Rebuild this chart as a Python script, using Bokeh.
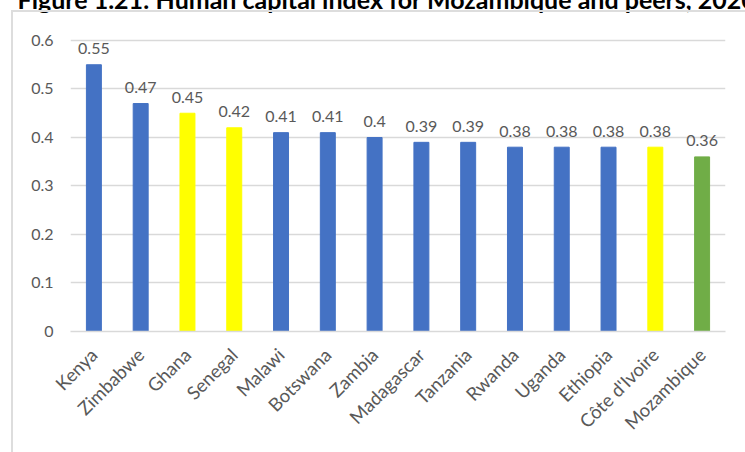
import math

from bokeh.core.properties import value
from bokeh.embed import file_html
from bokeh.models import (ColumnDataSource, CustomJSTickFormatter, FixedTicker,
                          InlineStyleSheet, Range1d, Title)
from bokeh.plotting import figure
from bokeh.resources import INLINE

# Human capital index, 2020
countries = ["Kenya", "Zimbabwe", "Ghana", "Senegal", "Malawi", "Botswana", "Zambia",
             "Madagascar", "Tanzania", "Rwanda", "Uganda", "Ethiopia", "Côte d'Ivoire",
             "Mozambique"]
hci = [0.55, 0.47, 0.45, 0.42, 0.41, 0.41, 0.40, 0.39, 0.39, 0.38, 0.38, 0.38, 0.38, 0.36]
group = ["peer", "peer", "aspirational", "aspirational", "peer", "peer", "peer",
         "peer", "peer", "peer", "peer", "peer", "aspirational", "focus"]
y_ticks = [0, 0.1, 0.2, 0.3, 0.4, 0.5, 0.6]
title_text = "Figure 1.21: Human capital index for Mozambique and peers, 2020"

palette = {"peer": "#4472C4", "aspirational": "#FFFF00", "focus": "#70AD47"}
GRAY_TEXT = "#595959"
GRID = "#D9D9D9"
BOX = "#DDDDDD"
FONT = "Lato"
SHIFT = 25  # the page is slid up so the heading sits partly above the top edge

source = ColumnDataSource(dict(
    country=countries,
    hci=hci,
    label=[f"{v:g}" for v in hci],
    color=[palette[g] for g in group],
))

p = figure(
    x_range=countries,
    y_range=Range1d(0, 0.6412),
    frame_width=655, frame_height=311,
    min_border_left=70, min_border_right=20,
    min_border_top=20 + SHIFT, min_border_bottom=121,
    output_backend="svg", toolbar_location=None,
)
p.x_range.range_padding = 0
p.outline_line_color = None
p.background_fill_color = "white"
p.border_fill_color = "white"
p.styles = {"position": "relative", "top": f"-{SHIFT}px"}
# thin border around the chart area (only its left and top edges fall inside the page)
p.stylesheets = [InlineStyleSheet(css=f"""
:host::after {{
  content: "";
  position: absolute;
  left: 11px;
  top: {10 + SHIFT}px;
  width: 800px;
  height: 600px;
  border-left: 2px solid {BOX};
  border-top: 2px solid {BOX};
  pointer-events: none;
  z-index: 10;
}}
""")]

p.title = Title(text=title_text, align="left", offset=-53, standoff=12,
                vertical_align="middle", text_font=FONT, text_font_style="bold",
                text_font_size="25px", text_color="black")

p.vbar(x="country", top="hci", width=0.32, color="color", source=source)
p.text(x="country", y="hci", text="label", source=source,
       text_align="center", text_baseline="alphabetic", y_offset=-16,
       text_font=value(FONT), text_font_size="16px", text_color=GRAY_TEXT)

p.xgrid.grid_line_color = None
p.ygrid.grid_line_color = GRID
p.ygrid.grid_line_width = 1.3

p.yaxis.ticker = FixedTicker(ticks=y_ticks)
p.yaxis.formatter = CustomJSTickFormatter(code="return String(Math.round(tick * 10) / 10)")
p.yaxis.axis_line_color = None
p.yaxis.major_tick_line_color = None
p.yaxis.minor_tick_line_color = None
p.yaxis.major_tick_out = 0
p.yaxis.major_tick_in = 0
p.yaxis.major_label_standoff = 17
p.yaxis.major_label_text_font = FONT
p.yaxis.major_label_text_font_size = "16px"
p.yaxis.major_label_text_color = GRAY_TEXT

p.xaxis.axis_line_color = GRID
p.xaxis.axis_line_width = 1.5
p.xaxis.major_tick_line_color = None
p.xaxis.minor_tick_line_color = None
p.xaxis.major_tick_out = 0
p.xaxis.major_tick_in = 0
p.xaxis.major_label_orientation = math.pi / 4
p.xaxis.major_label_standoff = 20
p.xaxis.major_label_text_font = FONT
p.xaxis.major_label_text_font_size = "18.5px"
p.xaxis.major_label_text_color = GRAY_TEXT

open("out.html", "w").write(file_html(p, INLINE))
